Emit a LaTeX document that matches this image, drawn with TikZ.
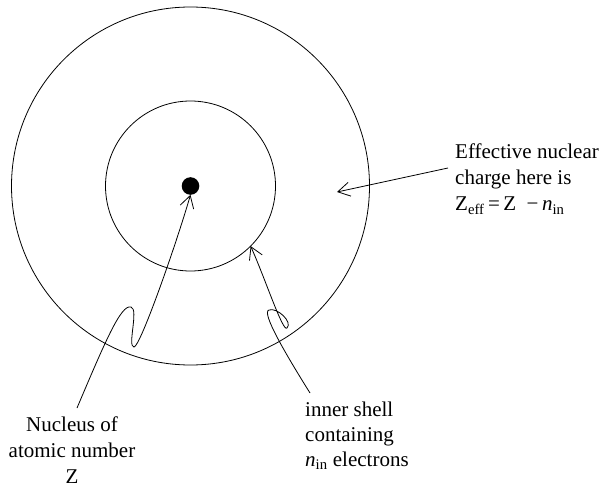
\documentclass[tikz,border=0pt]{standalone}
\usepackage{fontspec}
\setmainfont{Liberation Serif}
\usetikzlibrary{arrows.meta,calc}
\tikzset{
  shell/.style={draw, circle, line width=0.8pt, inner sep=0pt, outer sep=0pt},
  nucdot/.style={fill, circle, inner sep=0pt, outer sep=0pt, minimum size=17.6pt},
  lab/.style={inner sep=0pt, font=\fontsize{21}{26}\selectfont},
  arr/.style={-{Straight Barb[length=12pt,width=14pt]}, line width=0.8pt}}

\begin{document}
\begin{tikzpicture}[x=1pt,y=1pt]
  \useasboundingbox (0,0) rectangle (604,488);
  \node[shell, minimum size=358pt] (outer) at (190.5,302) {};
  \node[shell, minimum size=170pt] (inner) at (190.5,302) {};
  \node[nucdot] (nucleus) at (190.5,302) {};
  \coordinate (ring) at (337,296);
  \node[lab, anchor=north west, align=left] (eff) at (455,344)
    {Effective nuclear\\charge here is\\Z\textsubscript{eff}\,=\,Z\enspace−\,\textit{n}\textsubscript{in}};
  \node[lab, anchor=north, align=center] (nuclab) at (72,71)
    {Nucleus of\\atomic number\\Z};
  \node[lab, anchor=north west, align=left, font=\fontsize{21}{25}\selectfont] (shelllab) at (305,86)
    {inner shell\\containing\\\textit{n}\textsubscript{in} electrons};
  \draw[arr] ($(nuclab.north)+(5,9)$) .. controls (105,146) and (121,184) .. (131,181)
    .. controls (139,179) and (127,141) .. (134,141)
    .. controls (140,141) and (175,240) .. (nucleus.south);
  \draw[arr] ($(shelllab.north west)+(5,9)$) .. controls (285,135) and (261,176) .. (269,178)
    .. controls (277,181) and (293,166) .. (287,160)
    .. controls (283,155) and (265,210) .. (inner.-45);
  \draw[arr] ($(eff.north west)+(-7,-24)$) -- (ring);
\end{tikzpicture}
\end{document}
